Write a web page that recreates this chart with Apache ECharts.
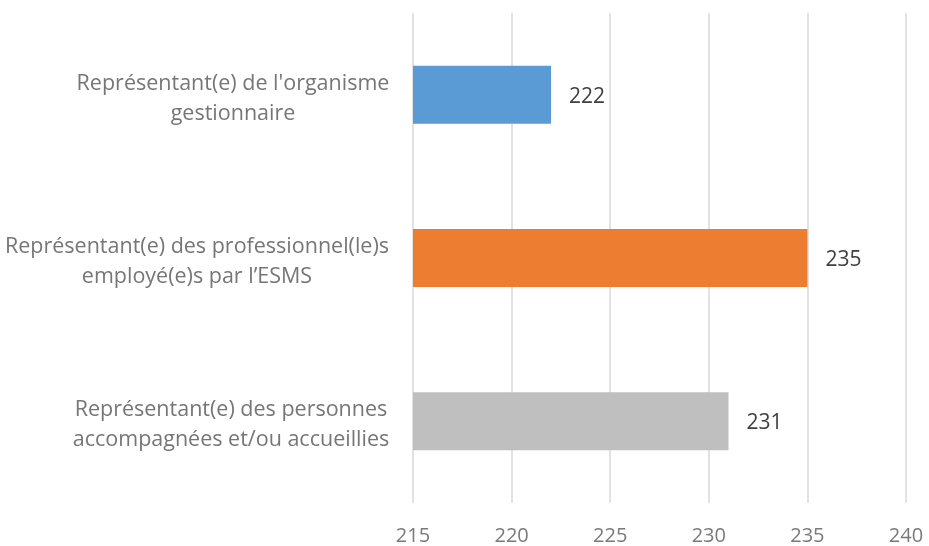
<!DOCTYPE html>
<html>
<head>
<meta charset="utf-8">
<script src="https://cdn.jsdelivr.net/npm/echarts@6/dist/echarts.min.js"></script>
<style>
  html, body { margin: 0; padding: 0; background: #ffffff; }
  #chart { width: 929px; height: 546px; }
</style>
</head>
<body>
<div id="chart"></div>
<script>
// Categories, top to bottom
const categories = [
  "Représentant(e) de l'organisme\ngestionnaire",
  "Représentant(e) des professionnel(le)s\nemployé(e)s par l’ESMS",
  "Représentant(e) des personnes\naccompagnées et/ou accueillies"
];
const values = [222, 235, 231];
const barColors = ['#5B9BD5', '#ED7D31', '#BFBFBF'];
const axisMin = 215;
const axisMax = 240;
const axisStep = 5;

const FONT = '"Open Sans", sans-serif';
const LABEL_SIZE = 21.5;

// Measure each label block so its lines can be centred within it
const ctx = document.createElement('canvas').getContext('2d');
ctx.font = LABEL_SIZE + 'px "Open Sans"';
const rich = {};
categories.forEach((c, i) => {
  const w = Math.max(...c.split('\n').map(l => ctx.measureText(l).width));
  rich['c' + i] = {
    width: Math.ceil(w) + 1,
    align: 'center',
    fontSize: LABEL_SIZE,
    fontFamily: FONT,
    color: '#767676',
    lineHeight: 30
  };
});

const chart = echarts.init(document.getElementById('chart'), null, { renderer: 'canvas' });
chart.setOption({
  animation: false,
  backgroundColor: '#ffffff',
  grid: { left: 413, right: 23, top: 13, bottom: 43, containLabel: false },
  xAxis: {
    type: 'value',
    min: axisMin,
    max: axisMax,
    interval: axisStep,
    axisLine: { show: false },
    axisTick: { show: false },
    splitLine: { show: true, lineStyle: { color: '#d9d9d9', width: 1.5 } },
    axisLabel: { color: '#7a7a7a', fontSize: 20, fontFamily: FONT, margin: 23 }
  },
  yAxis: {
    type: 'category',
    inverse: true,
    data: categories,
    axisLine: { show: false },
    axisTick: { show: false },
    axisLabel: {
      margin: 23,
      padding: [8, 0, 0, 0],
      formatter: (v, idx) => v.split('\n').map(l => '{c' + idx + '|' + l + '}').join('\n'),
      rich: rich
    }
  },
  series: [{
    type: 'bar',
    barWidth: 58,
    data: values.map((v, i) => ({ value: v, itemStyle: { color: barColors[i] } })),
    label: {
      show: true,
      position: 'right',
      distance: 18,
      offset: [0, 2],
      color: '#404040',
      fontSize: 21,
      fontFamily: FONT
    }
  }]
});
</script>
</body>
</html>
